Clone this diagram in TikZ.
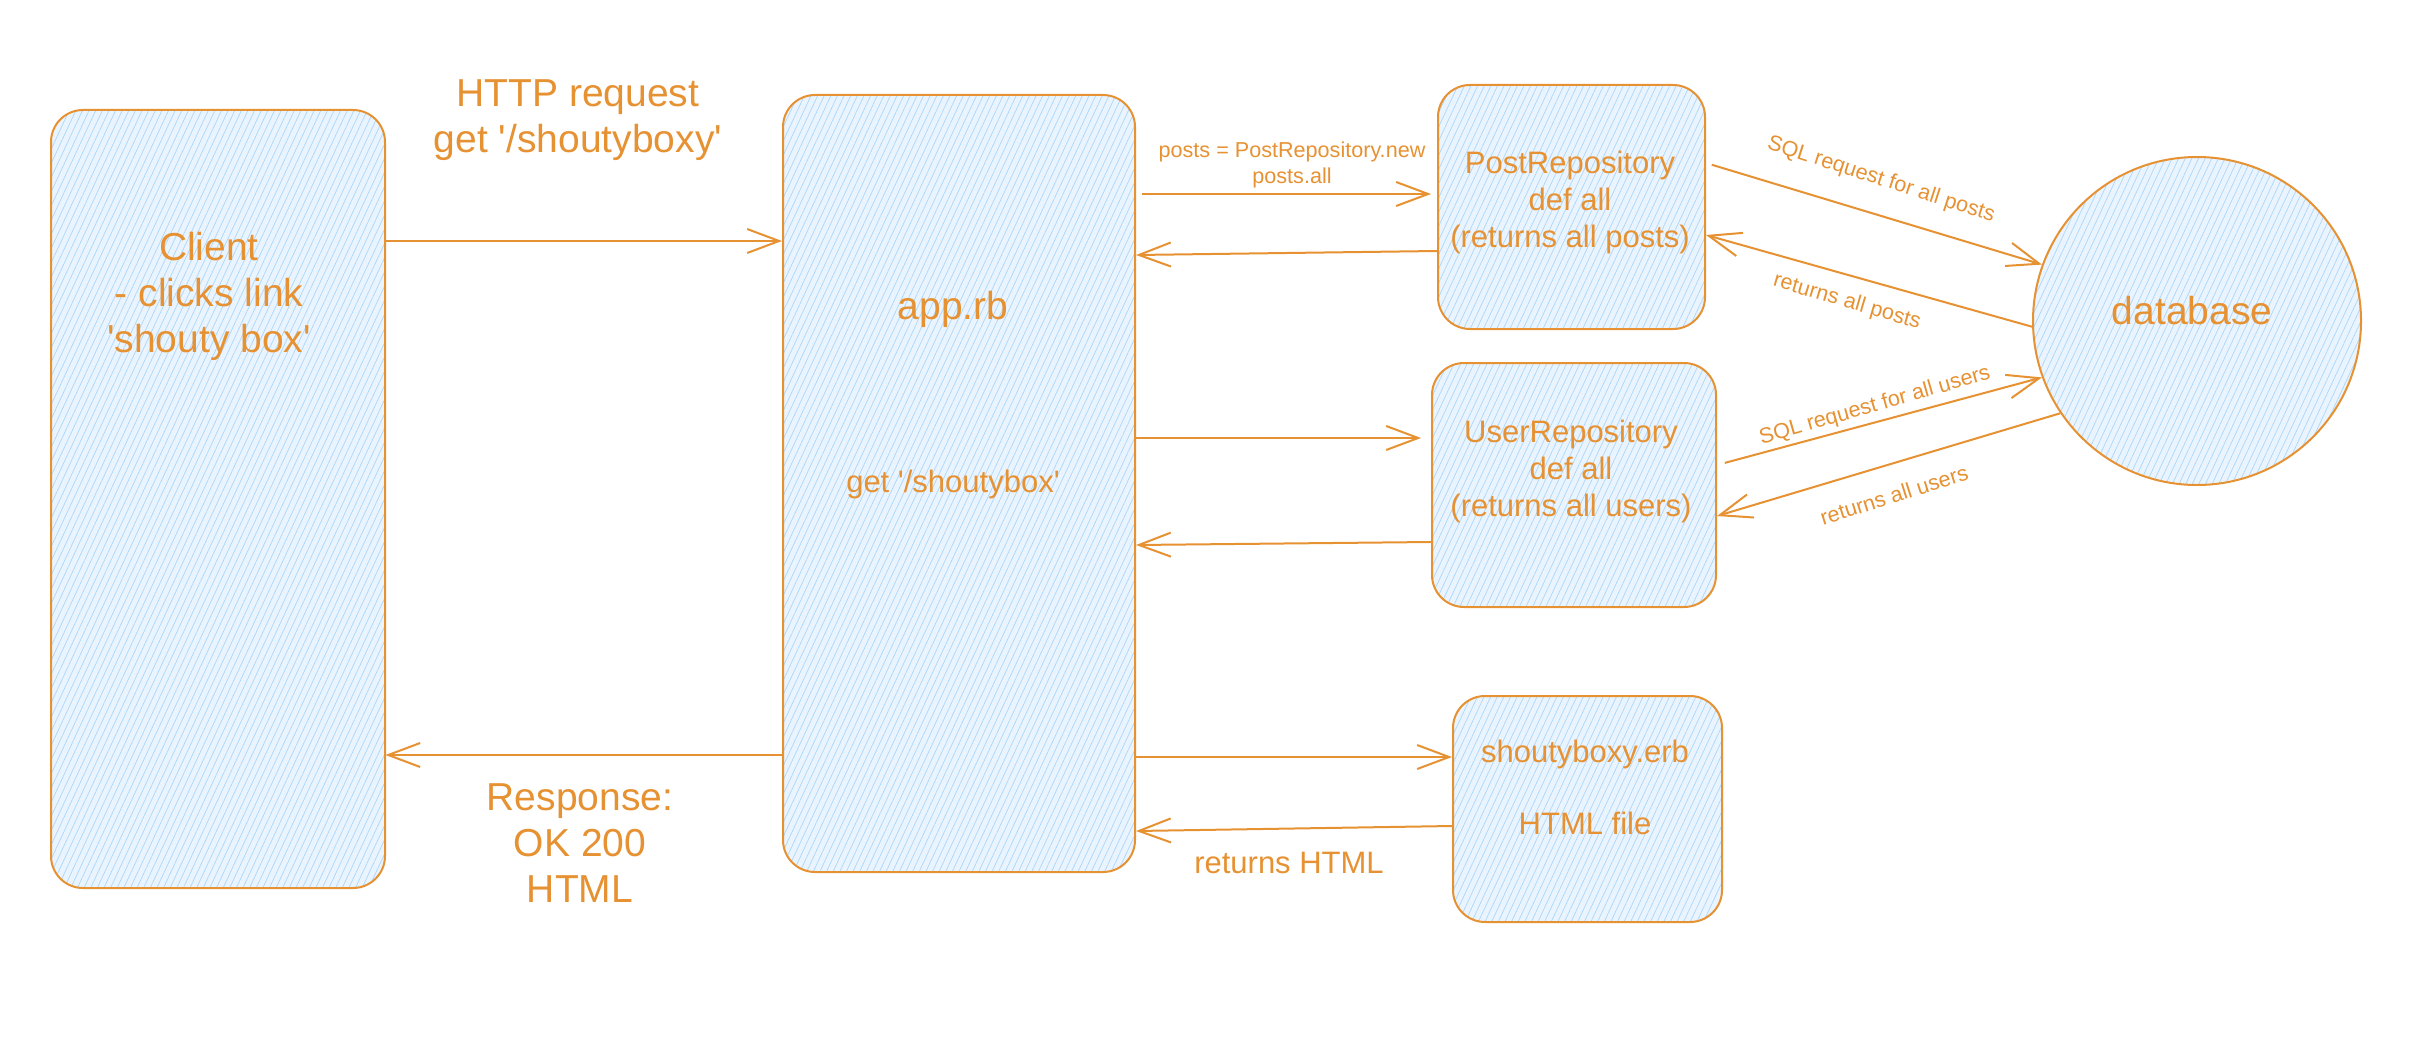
\documentclass[tikz,border=0pt]{standalone}
\usepackage{fontspec}
\newfontfamily\lsans{Liberation Sans}
\usetikzlibrary{arrows.meta,patterns.meta,calc}
\definecolor{ink}{RGB}{230,145,50}
\definecolor{fillb}{RGB}{234,244,254}
\definecolor{hatch}{RGB}{170,214,250}
\begin{document}
\begin{tikzpicture}[x=0.5pt,y=-0.5pt,
  shape base/.style={draw=ink,line width=1pt,preaction={fill=fillb},
    pattern={Lines[angle=65,distance=3pt,line width=0.35pt]},pattern color=hatch,inner sep=0pt},
  box/.style={shape base,rectangle,rounded corners=16pt},
  dbcircle/.style={shape base,circle,minimum size=164pt},
  big/.style={text=ink,font=\lsans\fontsize{19.5}{23}\selectfont,align=center,inner sep=0pt},
  mid/.style={text=ink,font=\lsans\fontsize{15.5}{18.5}\selectfont,align=center,inner sep=0pt},
  small/.style={text=ink,font=\lsans\fontsize{10.8}{13}\selectfont,align=center,inner sep=0pt},
  arr/.style={draw=ink,line width=1pt,-{Straight Barb[length=16pt,width=12pt,line width=1pt]}},
]
\useasboundingbox (0,0) rectangle (2424,1054);

% boxes
\node[box,minimum width=167pt,minimum height=389pt] (client) at (218,499) {};
\node[box,minimum width=176pt,minimum height=388.5pt] (app) at (959,483.5) {};
\node[box,minimum width=133.5pt,minimum height=122pt] (post) at (1571.5,207) {};
\node[box,minimum width=142pt,minimum height=122pt] (user) at (1574,485) {};
\node[box,minimum width=134.5pt,minimum height=113pt] (erb) at (1587.5,809) {};
\node[dbcircle] (db) at (2197,321) {};

% texts in boxes
\node[big] (clienttxt) at (209,296) {Client\\- clicks link\\\textquotesingle shouty box\textquotesingle};
\node[big] (apptxt) at (953,309) {app.rb};
\node[mid] (appget) at (953,484) {get \textquotesingle/shoutybox\textquotesingle};
\node[mid] (posttxt) at (1570,202) {PostRepository\\def all\\(returns all posts)};
\node[mid] (usertxt) at (1571,471) {UserRepository\\def all\\(returns all users)};
\node[mid] (erbtxt) at (1585,754) {shoutyboxy.erb};
\node[mid] (erbhtml) at (1585,823) {HTML file};
\node[big] (dbtxt) at (2192,311) {database};

% labels
\node[big] (httplbl) at (578,120) {HTTP request\\get \textquotesingle/shoutyboxy\textquotesingle};
\node[big] (resplbl) at (580,843) {Response:\\OK 200\\HTML};
\node[small] (postslbl) at (1292,165) {posts = PostRepository.new\\posts.all};
\node[mid] (htmllbl) at (1289,863) {returns HTML};
\node[small,rotate=-18] (sqlposts) at (1881,180) {SQL request for all posts};
\node[small,rotate=-16.3] (retposts) at (1847,302) {returns all posts};
\node[small,rotate=16] (sqlusers) at (1875,406) {SQL request for all users};
\node[small,rotate=17.6] (retusers) at (1894,495) {returns all users};

% connectors
\draw[arr] ([yshift=129pt]client.east) -- ([yshift=121.25pt]app.west);
\draw[arr] ([yshift=-135.75pt]app.west) -- ([yshift=-128pt]client.east);
\draw[arr,shorten <=3pt,shorten >=3pt] ([yshift=144.75pt]app.east) -- ([yshift=6.5pt]post.west);
\draw[arr] ([yshift=-22pt]post.west) -- ([yshift=114.25pt]app.east);
\draw[arr,shorten >=5pt] ([yshift=22.75pt]app.east) -- ([yshift=23.5pt]user.west);
\draw[arr] ([yshift=-28.5pt]user.west) -- ([yshift=-30.75pt]app.east);
\draw[arr] ([yshift=-136.75pt]app.east) -- ([yshift=26pt]erb.west);
\draw[arr] ([yshift=-8.5pt]erb.west) -- ([yshift=-173.75pt]app.east);
\draw[arr,shorten <=3pt] ([yshift=22pt]post.east) -- (db.160);
\draw[arr] (db.182) -- ([yshift=-14pt]post.east);
\draw[arr,shorten <=4pt] ([yshift=10pt]user.east) -- (db.200);
\draw[arr] (db.214.6) -- ([yshift=-15.5pt]user.east);
\end{tikzpicture}
\end{document}
